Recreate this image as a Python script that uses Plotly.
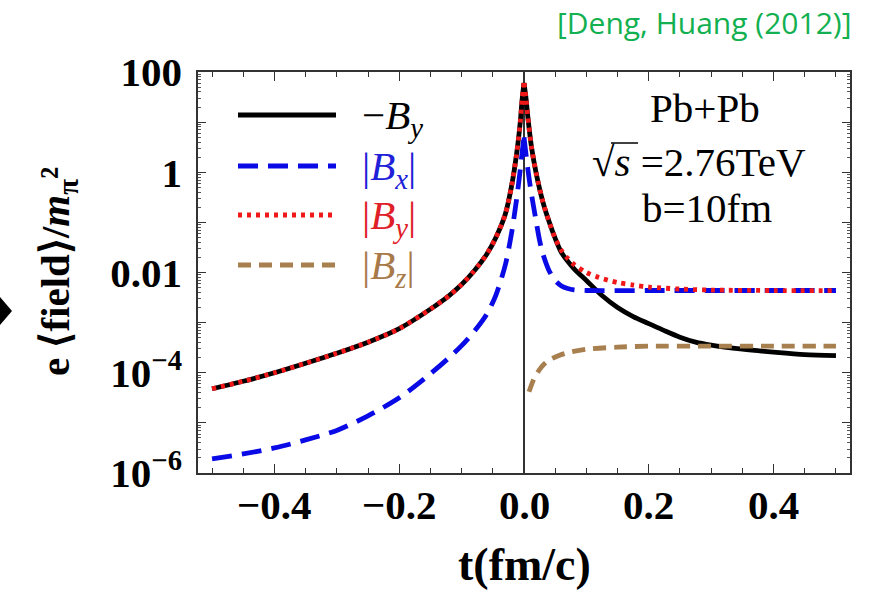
import plotly.graph_objects as go

# ---------------- data ----------------
# -B_y and |B_y| coincide for t <= 0
t_neg_By = [-0.5, -0.45, -0.4, -0.35, -0.3, -0.25, -0.2, -0.15, -0.12, -0.1, -0.08, -0.06,
            -0.045, -0.03, -0.02, -0.012, -0.006, -0.003, 0.0]
v_neg_By = [4.79e-5, 6.76e-5, 1.0e-4, 1.55e-4, 2.45e-4, 4.07e-4, 7.59e-4, 1.86e-3, 3.47e-3, 5.75e-3, 1.07e-2,
            2.29e-2, 5.01e-2, 0.145, 0.525, 2.24, 10.0, 28.2, 60.3]

t_pos_black = [0.0, 0.003, 0.006, 0.012, 0.02, 0.03, 0.04, 0.05, 0.06, 0.08, 0.1, 0.125, 0.15, 0.175, 0.2,
               0.225, 0.25, 0.275, 0.3, 0.35, 0.4, 0.45, 0.5]
v_pos_black = [60.3, 31.6, 13.2, 3.16, 0.891, 0.263, 0.105, 0.0479, 0.0251, 0.0120, 6.92e-3, 3.47e-3, 2.0e-3,
               1.32e-3, 9.55e-4, 6.92e-4, 5.13e-4, 4.07e-4, 3.55e-4, 2.95e-4, 2.57e-4, 2.29e-4, 2.19e-4]

t_pos_red = [0.0, 0.003, 0.006, 0.012, 0.02, 0.03, 0.04, 0.05, 0.06, 0.07, 0.08, 0.1, 0.12, 0.15, 0.175, 0.2,
             0.25, 0.3, 0.4, 0.5]
v_pos_red = [60.3, 31.6, 13.2, 3.16, 0.891, 0.263, 0.105, 0.0479, 0.0275, 0.0191, 0.0145, 0.01, 7.94e-3, 6.31e-3,
             5.62e-3, 5.13e-3, 4.68e-3, 4.47e-3, 4.37e-3, 4.37e-3]

t_neg_Bx = [-0.5, -0.45, -0.4, -0.35, -0.3, -0.25, -0.2, -0.15, -0.12, -0.1, -0.08, -0.06, -0.045, -0.03,
            -0.02, -0.012, -0.006, -0.003, 0.0]
v_neg_Bx = [1.91e-6, 2.40e-6, 3.16e-6, 4.57e-6, 7.08e-6, 1.38e-5, 3.16e-5, 9.55e-5, 2.0e-4, 3.47e-4, 6.61e-4,
            1.45e-3, 3.55e-3, 0.0141, 0.0603, 0.282, 1.12, 2.51, 5.01]
t_pos_Bx = [0.0, 0.003, 0.006, 0.01, 0.015, 0.02, 0.025, 0.03, 0.04, 0.05, 0.06, 0.07, 0.08, 0.1, 0.2, 0.3,
            0.4, 0.5]
v_pos_Bx = [5.01, 2.40, 1.20, 0.525, 0.219, 0.0955, 0.0437, 0.024, 0.011, 6.92e-3, 5.37e-3, 4.79e-3, 4.52e-3,
            4.37e-3, 4.37e-3, 4.37e-3, 4.37e-3, 4.37e-3]

t_Bz = [0.008, 0.012, 0.016, 0.024, 0.032, 0.04, 0.055, 0.07, 0.1, 0.15, 0.2, 0.3, 0.4, 0.5]
v_Bz = [4.17e-5, 5.75e-5, 7.59e-5, 1.12e-4, 1.48e-4, 1.78e-4, 2.19e-4, 2.51e-4, 2.95e-4, 3.24e-4, 3.39e-4,
        3.39e-4, 3.39e-4, 3.39e-4]

x_tickvals = [-0.4, -0.2, 0.0, 0.2, 0.4]
x_ticktext = ["−0.4", "−0.2", "0.0", "0.2", "0.4"]
y_tickvals = [1e-6, 1e-5, 1e-4, 1e-3, 1e-2, 1e-1, 1, 10, 100]
y_ticktext = ["10<sup>−6</sup>", "", "10<sup>−4</sup>", "", "0.01", "", "1", "", "100"]

legend_labels = ["−<i>B</i><sub><i>y</i></sub>", "|<i>B</i><sub><i>x</i></sub>|",
                 "|<i>B</i><sub><i>y</i></sub>|", "|<i>B</i><sub><i>z</i></sub>|"]

# ---------------- styles ----------------
BLACK = "#000000"
BLUE = "#0a0ae6"
RED = "#f01818"
BROWN = "#a8804f"
SERIF = "Liberation Serif, Times New Roman, serif"
LW = 4.8
DASH_BX = "20px,10px"
DASH_BY = "4px,5px"
DASH_BZ = "13px,8px"

W, H = 870, 592
L, R, T, B = 198, 20, 72, 119
PW, PH = W - L - R, H - T - B


def px(x):
    return (x - L) / PW


def py(y):
    return (H - B - y) / PH


def curve(x, y, color, dash="solid"):
    return go.Scatter(x=x, y=y, mode="lines", showlegend=False, hoverinfo="skip",
                      line=dict(color=color, width=LW, dash=dash, shape="spline", smoothing=0.8))


fig = go.Figure()
# -B_y (black)
fig.add_trace(curve(t_neg_By, v_neg_By, BLACK))
fig.add_trace(curve(t_pos_black, v_pos_black, BLACK))
# |B_x| (blue dashed)
fig.add_trace(curve(t_neg_Bx, v_neg_Bx, BLUE, DASH_BX))
fig.add_trace(curve(t_pos_Bx, v_pos_Bx, BLUE, DASH_BX))
# |B_y| (red dotted)
fig.add_trace(curve(t_neg_By, v_neg_By, RED, DASH_BY))
fig.add_trace(curve(t_pos_red, v_pos_red, RED, DASH_BY))
# |B_z| (brown dashed)
fig.add_trace(curve(t_Bz, v_Bz, BROWN, DASH_BZ))

shapes = []
annotations = []

# custom legend
leg_styles = [(BLACK, "solid", 115), (BLUE, DASH_BX, 166), (RED, DASH_BY, 215), (BROWN, DASH_BZ, 265)]
leg_colors = [BLACK, "#2020d8", "#e02028", "#a87a4a"]
for (col, dash, yy), lab, tc in zip(leg_styles, legend_labels, leg_colors):
    shapes.append(dict(type="line", xref="paper", yref="paper",
                       x0=px(238), x1=px(336), y0=py(yy), y1=py(yy),
                       line=dict(color=col, width=LW, dash=dash)))
    annotations.append(dict(text=lab, xref="paper", yref="paper", x=px(360), y=py(yy + 3),
                            xanchor="left", yanchor="middle", showarrow=False,
                            font=dict(family=SERIF, size=41, color=tc)))

# x tick labels (placed as annotations on the x data scale)
for v, txt in zip(x_tickvals, x_ticktext):
    annotations.append(dict(text=txt, xref="x", yref="paper", x=v, y=py(505), showarrow=False,
                            xanchor="center", yanchor="middle",
                            font=dict(family=SERIF, size=41, color="black", weight="bold")))

# physics labels
annotations += [
    dict(text="Pb+Pb", xref="paper", yref="paper", x=px(705), y=py(108), showarrow=False,
         xanchor="center", yanchor="middle", font=dict(family=SERIF, size=41, color="black")),
    dict(text="√<i>s</i> =2.76TeV", xref="paper", yref="paper", x=px(699), y=py(162), showarrow=False,
         xanchor="center", yanchor="middle", font=dict(family=SERIF, size=41, color="black")),
    dict(text="b=10fm", xref="paper", yref="paper", x=px(707), y=py(208), showarrow=False,
         xanchor="center", yanchor="middle", font=dict(family=SERIF, size=41, color="black")),
    # axis titles
    dict(text="t(fm/c)", xref="paper", yref="paper", x=px(524), y=py(564), showarrow=False,
         xanchor="center", yanchor="middle", font=dict(family=SERIF, size=46, color="black", weight="bold")),
    dict(text="e ⟨field⟩/<i>m</i><sub>π</sub>²", xref="paper", yref="paper", x=px(58), y=py(272),
         showarrow=False, textangle=-90, xanchor="center", yanchor="middle",
         font=dict(family=SERIF, size=41, color="black", weight="bold")),
    # citation
    dict(text="[Deng, Huang (2012)]", xref="paper", yref="paper", x=px(853), y=py(23), showarrow=False,
         xanchor="right", yanchor="middle", font=dict(family="Open Sans, sans-serif", size=30, color="#12b050")),
]

# vinculum over s
shapes.append(dict(type="line", xref="paper", yref="paper", x0=px(611), x1=px(638), y0=py(143), y1=py(143),
                   line=dict(color="black", width=1.5)))
# black diamond bullet at left edge
d_pts = [(-12, 311), (0, 297), (12, 311), (0, 325)]
path = "M " + " L ".join(f"{px(a)},{py(b)}" for a, b in d_pts) + " Z"
shapes.append(dict(type="path", xref="paper", yref="paper", path=path,
                   fillcolor="black", line=dict(color="black", width=0)))

axis_common = dict(showline=True, linecolor="#333333", linewidth=1.5, mirror="allticks",
                   ticks="inside", tickcolor="#333333", showgrid=False)

fig.update_layout(
    width=W, height=H,
    margin=dict(l=L, r=R, t=T, b=B),
    paper_bgcolor="white", plot_bgcolor="white",
    shapes=shapes, annotations=annotations,
    xaxis=dict(range=[-0.5225, 0.5225], tickmode="array", tickvals=x_tickvals, ticktext=x_ticktext,
               showticklabels=False, ticklen=9, tickwidth=1.3,
               minor=dict(dtick=0.05, tick0=0, ticks="inside", ticklen=5, tickcolor="#333333", tickwidth=1),
               zeroline=True, zerolinecolor="#333333", zerolinewidth=1.5, **axis_common),
    yaxis=dict(type="log", range=[-6, 2], tickmode="array", tickvals=y_tickvals, ticktext=y_ticktext,
               ticklen=8, tickwidth=1.3,
               minor=dict(dtick="D1", ticks="inside", ticklen=3, tickcolor="#555555", tickwidth=1),
               tickfont=dict(family=SERIF, size=41, color="black", weight="bold"),
               ticklabelstandoff=6, zeroline=False, **axis_common),
)

fig.write_html("out.html")
